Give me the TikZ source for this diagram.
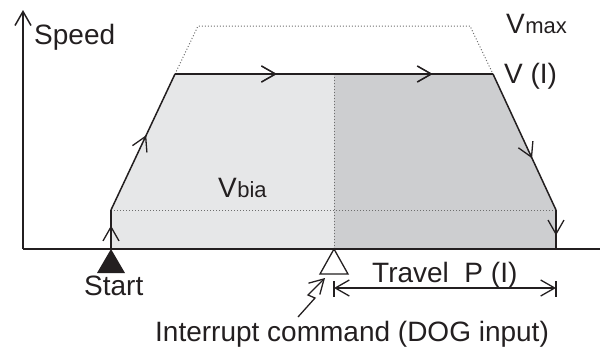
\documentclass[tikz,border=0pt]{standalone}
\usepackage{fontspec}
\setmainfont{Liberation Sans}
\usetikzlibrary{arrows.meta,decorations.markings}
\definecolor{lightfill}{RGB}{230,231,232}
\definecolor{darkfill}{RGB}{205,206,208}
\definecolor{ink}{RGB}{35,31,32}
\definecolor{dotc}{RGB}{110,110,110}
\begin{document}
\begin{tikzpicture}[x=1pt,y=-1pt,
  line/.style={draw=ink,line width=1.5pt,line join=miter},
  dots/.style={draw=dotc,line width=1pt,dash pattern=on 1pt off 2pt},
  barb/.tip={Straight Barb[length=14pt,width=16pt]},
  midarrow/.style={postaction={decorate},decoration={markings,
     mark=at position #1 with {\arrow[ink,line width=1.3pt]{barb}}}},
  lbl/.style={inner sep=0,anchor=base west,text=ink,font=\fontsize{28}{30}\selectfont}
]
\useasboundingbox (0,0) rectangle (600,346);
% corners
\coordinate (o) at (23,249);
\coordinate (ytop) at (23,10);
\coordinate (xend) at (600,249);
\coordinate (s) at (111,249);
\coordinate (b1) at (111,210);
\coordinate (t1) at (175,74);
\coordinate (m) at (334,74);
\coordinate (mb) at (334,249);
\coordinate (t2) at (493,74);
\coordinate (b2) at (556,210);
\coordinate (e) at (556,249);
\coordinate (mx1) at (198,26);
\coordinate (mx2) at (470,26);
% fills
\fill[lightfill] (s) -- (b1) -- (t1) -- (m) -- (mb) -- cycle;
\fill[darkfill] (m) -- (t2) -- (b2) -- (e) -- (mb) -- cycle;
% dotted guides
\draw[dots] (b1) -- (b2);
\draw[dots] (m) -- (mb);
\draw[dots] (t1) -- (mx1) -- (mx2) -- (t2);
% axes
\draw[line,-{barb}] (o) -- (ytop);
\draw[line] (o) -- (xend);
% speed profile
\draw[line,midarrow=0.6] (s) -- (b1);
\draw[line,midarrow=0.55] (b1) -- (t1);
\draw[line,midarrow=0.32,midarrow=0.81] (t1) -- (t2);
\draw[line,midarrow=0.62] (t2) -- (b2);
\draw[line,midarrow=0.65] (b2) -- (e);
% triangles
\fill[ink] (s) -- (125,273) -- (97,273) -- cycle;
\draw[line,line width=1.3pt,fill=white] (mb) -- (348,274) -- (320,274) -- cycle;
% lightning arrow
\coordinate (l0) at (298,317);
\coordinate (l1) at (315,298);
\coordinate (l2) at (308,295);
\coordinate (l3) at (325,278);
\draw[line,line width=1.3pt,-{barb}] (l0) -- (l1) -- (l2) -- (l3);
% travel dimension
\coordinate (d1) at (334,288);
\coordinate (d2) at (556,288);
\draw[line,line width=1.3pt] (334,281) -- (334,297);
\draw[line,line width=1.3pt] (556,281) -- (556,297);
\draw[line,line width=1.3pt,{barb}-{barb}] (d1) -- (d2);
% labels
\node[lbl] (speed) at (34,44) {Speed};
\node[lbl] (vmax) at (506,33) {V\kern0.5pt{\fontsize{22}{24}\selectfont max}};
\node[lbl] (vi) at (504,83) {V (I)};
\node[lbl] (vbia) at (218,197) {V\kern0.5pt{\fontsize{22}{24}\selectfont bia}};
\node[lbl] (start) at (84,295) {Start};
\node[lbl] (travel) at (372,282) {Travel\ \ P (I)};
\node[lbl] (intr) at (155,341) {Interrupt command (DOG input)};
\end{tikzpicture}
\end{document}
